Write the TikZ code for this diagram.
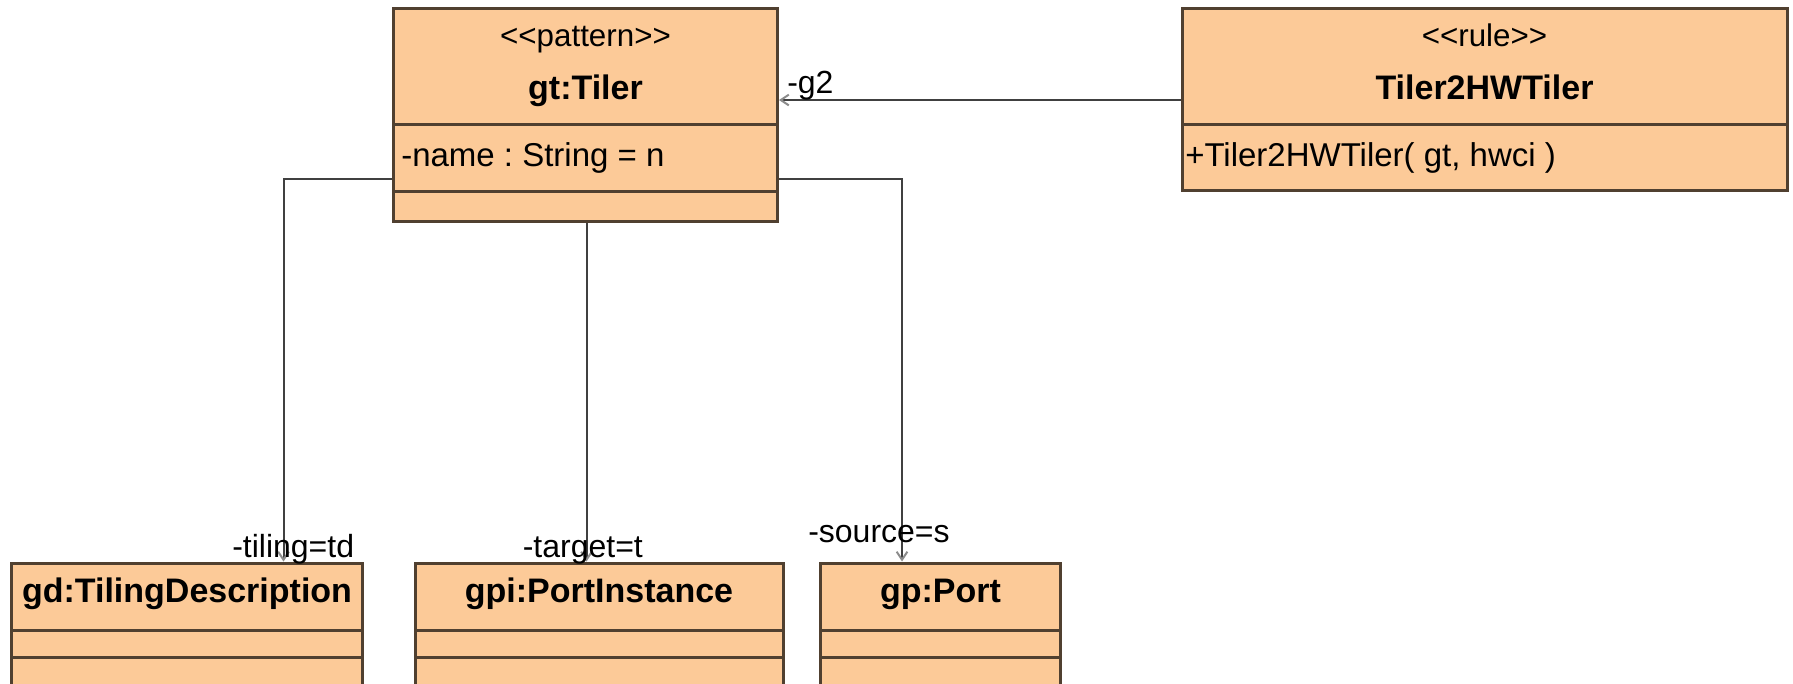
\documentclass[tikz,border=0pt]{standalone}
\usepackage{fontspec}
\setmainfont{Liberation Sans}
\usetikzlibrary{arrows.meta,fit}
\definecolor{boxfill}{RGB}{252,202,152}
\definecolor{boxline}{RGB}{80,64,48}
\definecolor{wire}{RGB}{64,64,64}
\definecolor{tipgray}{RGB}{140,140,140}
\frenchspacing
\begin{document}
\begin{tikzpicture}[x=0.75pt,y=-0.75pt,
  umlbox/.style={draw=boxline,fill=boxfill,line width=2.25pt,inner sep=0pt},
  divider/.style={draw=boxline,line width=2.25pt},
  wireline/.style={draw=wire,line width=1.5pt,-{Straight Barb[length=6pt,width=8pt,color=tipgray,line width=1.5pt]}},
  stereo/.style={anchor=base,inner sep=0pt,font=\fontsize{23.5}{26}\selectfont},
  classname/.style={anchor=base,inner sep=0pt,font=\fontsize{25.5}{28}\selectfont\bfseries},
  member/.style={anchor=base west,inner sep=0pt,font=\fontsize{24.75}{28}\selectfont},
  rolelabel/.style={anchor=base west,inner sep=0pt,font=\fontsize{24}{28}\selectfont}]
\clip (0,0) rectangle (1793,683);
\fill[white] (0,0) rectangle (1793,683);

% top boxes
\node[umlbox,fit={(393.5,8.5)(777.5,221.5)}] (gt) {};
\draw[divider] (393.5,124) -- (777.5,124);
\draw[divider] (393.5,191) -- (777.5,191);
\node[stereo] (gtst) at (585.5,46) {<{}<pattern>{}>};
\node[classname] (gtname) at (585.5,99) {gt:Tiler};
\node[member] (gtattr) at (401,166) {-name : String = n};

\node[umlbox,fit={(1182,8.5)(1787,190)}] (t2h) {};
\draw[divider] (1182,124) -- (1787,124);
\node[stereo] (t2hst) at (1484.5,46) {<{}<rule>{}>};
\node[classname] (t2hname) at (1484.5,99) {Tiler2HWTiler};
\node[member] (t2hop) at (1185,166) {+Tiler2HWTiler( gt, hwci )};

% bottom boxes
\node[umlbox,fit={(11.5,563)(362.5,700)}] (gd) {};
\draw[divider] (11.5,630) -- (362.5,630);
\draw[divider] (11.5,657) -- (362.5,657);
\node[classname] (gdname) at (187,602) {gd:TilingDescription};

\node[umlbox,fit={(415,563)(783,700)}] (gpi) {};
\draw[divider] (415,630) -- (783,630);
\draw[divider] (415,657) -- (783,657);
\node[classname] (gpiname) at (599,602) {gpi:PortInstance};

\node[umlbox,fit={(820.5,563)(1060.5,700)}] (gp) {};
\draw[divider] (820.5,630) -- (1060.5,630);
\draw[divider] (820.5,657) -- (1060.5,657);
\node[classname] (gpname) at (940.5,602) {gp:Port};

% connectors
\draw[wireline] (t2h.west |- 0,100) -- (gt.east |- 0,100);
\draw[wireline] (gt.west |- 0,179) -| (gd.north -| 283.5,0);
\draw[wireline] (gt.south -| 586.5,0) -- (gpi.north -| 586.5,0);
\draw[wireline] (gt.east |- 0,179) -| (gp.north -| 902,0);

% role labels
\node[rolelabel] (lg2) at (787,93) {-g2};
\node[rolelabel] (ltiling) at (232,557) {-tiling=td};
\node[rolelabel] (ltarget) at (522.5,557) {-target=t};
\node[rolelabel] (lsource) at (808,542) {-source=s};
\end{tikzpicture}
\end{document}
